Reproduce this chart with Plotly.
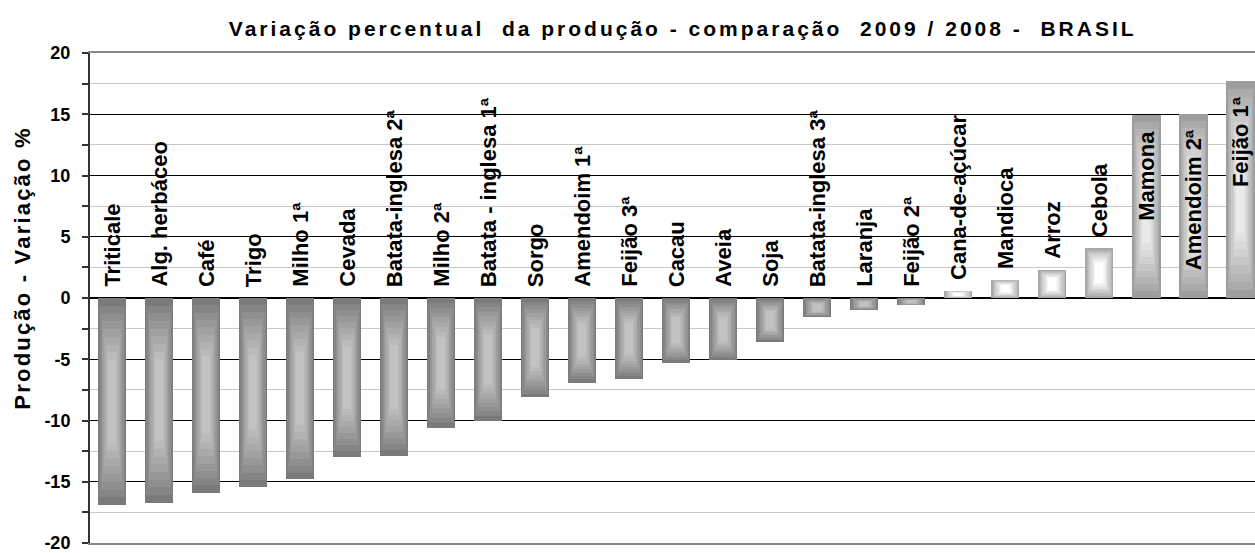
import plotly.graph_objects as go

categories = ["Triticale", "Alg. herbáceo", "Café", "Trigo", "Milho 1ª", "Cevada",
              "Batata-inglesa 2ª", "Milho 2ª", "Batata - inglesa 1ª", "Sorgo",
              "Amendoim 1ª", "Feijão 3ª", "Cacau", "Aveia", "Soja",
              "Batata-inglesa 3ª", "Laranja", "Feijão 2ª", "Cana-de-açúcar",
              "Mandioca", "Arroz", "Cebola", "Mamona", "Amendoim 2ª", "Feijão 1ª"]
values = [-16.9, -16.7, -15.9, -15.4, -14.8, -13.0, -12.9, -10.6, -10.0, -8.1,
          -6.9, -6.6, -5.3, -5.1, -3.6, -1.55, -1.0, -0.6, 0.6, 1.5, 2.3, 4.1,
          14.9, 15.0, 17.7]
y_ticks = [-20, -15, -10, -5, 0, 5, 10, 15, 20]

title_text = "Variação percentual  da produção - comparação  2009 / 2008 -  BRASIL"
y_title = "Produção - Variação %"

# ---- styles ----
FONT = "Liberation Sans, Arial, sans-serif"
label_inside = [c in ("Mamona", "Amendoim 2ª", "Feijão 1ª") for c in categories]


def bar_style(v, inside):
    if v < 0:
        return (0x7a, 0x7a, 0x7a), (0xc2, 0xc2, 0xc2)
    if inside:
        return (0x9e, 0x9e, 0x9e), (0xea, 0xea, 0xea)
    return (0xa8, 0xa8, 0xa8), (0xff, 0xff, 0xff)


def mix(a, b, t):
    return "rgb(%d,%d,%d)" % tuple(round(a[i] + (b[i] - a[i]) * t) for i in range(3))


x_idx = list(range(len(categories)))
N_LAYERS = 9
BAR_W = 0.6

fig = go.Figure()
for k in range(N_LAYERS):
    t = k / (N_LAYERS - 1)
    f = 0.30 * t  # fraction trimmed from each end (vertical)
    bases = [v * f for v in values]
    heights = [v * (1 - 2 * f) for v in values]
    colors = []
    for v, ins in zip(values, label_inside):
        edge, center = bar_style(v, ins)
        colors.append(mix(edge, center, t ** 0.9))
    fig.add_trace(go.Bar(
        x=x_idx, y=heights, base=bases,
        width=BAR_W * (1 - 0.72 * t),
        marker=dict(color=colors, line=dict(width=0)),
        hoverinfo="skip",
        showlegend=False,
    ))

annotations = []
for i, (c, v, ins) in enumerate(zip(categories, values, label_inside)):
    if ins:
        annotations.append(dict(x=i, y=v, xref="x", yref="y", text=c, textangle=-90,
                                showarrow=False, yanchor="top", xanchor="center",
                                yshift=-13,
                                font=dict(family=FONT, size=22, color="black", weight="bold")))
    else:
        annotations.append(dict(x=i, y=max(v, 0), xref="x", yref="y", text=c, textangle=-90,
                                showarrow=False, yanchor="bottom", xanchor="center",
                                yshift=9,
                                font=dict(family=FONT, size=22, color="black", weight="bold")))

annotations.append(dict(x=-0.058, y=0.561, xref="paper", yref="paper", text=y_title,
                        textangle=-90, showarrow=False, xanchor="center", yanchor="middle",
                        font=dict(family=FONT, size=22, color="black", weight="bold")))

fig.update_layout(
    width=1255, height=553,
    margin=dict(l=90, r=0, t=53, b=10, autoexpand=False),
    plot_bgcolor="white", paper_bgcolor="white",
    barmode="overlay",
    bargap=0,
    title=dict(text=title_text, x=0.544, xanchor="center", y=0.949, yanchor="middle",
               font=dict(family=FONT, size=21, color="black", weight="bold")),
    annotations=annotations,
    showlegend=False,
)
fig.update_xaxes(
    range=[-0.47, len(categories) - 1 + 0.31],
    showticklabels=False, ticks="", showgrid=False, zeroline=False,
    showline=True, linecolor="#8a8a8a", linewidth=2, mirror=True,
)
fig.update_yaxes(
    range=[-20, 20], tickvals=y_ticks, ticktext=[str(v) for v in y_ticks],
    automargin=False, ticklabeloverflow="allow",
    showgrid=True, gridcolor="black", gridwidth=1,
    zeroline=True, zerolinecolor="black", zerolinewidth=2,
    showline=True, linecolor="#333333", linewidth=2,
    ticks="outside", ticklen=6, tickcolor="#333333", tickwidth=1.5,
    ticklabelstandoff=8,
    tickfont=dict(family=FONT, size=18, color="black", weight="bold"),
    minor=dict(dtick=2.5, showgrid=True, gridcolor="#c8c8c8", gridwidth=1,
               ticks="outside", ticklen=6, tickcolor="#333333"),
)

post = """
document.body.style.margin='0';
document.body.style.overflow='hidden';
var tt=document.querySelector('.gtitle'); if(tt){tt.style.letterSpacing='3px';}
document.querySelectorAll('.annotation-text').forEach(function(e){
  if(e.textContent.indexOf('Produ')===0){e.style.letterSpacing='2.2px';}
});
"""

fig.write_html("out.html", post_script=post, config={"displayModeBar": False})
